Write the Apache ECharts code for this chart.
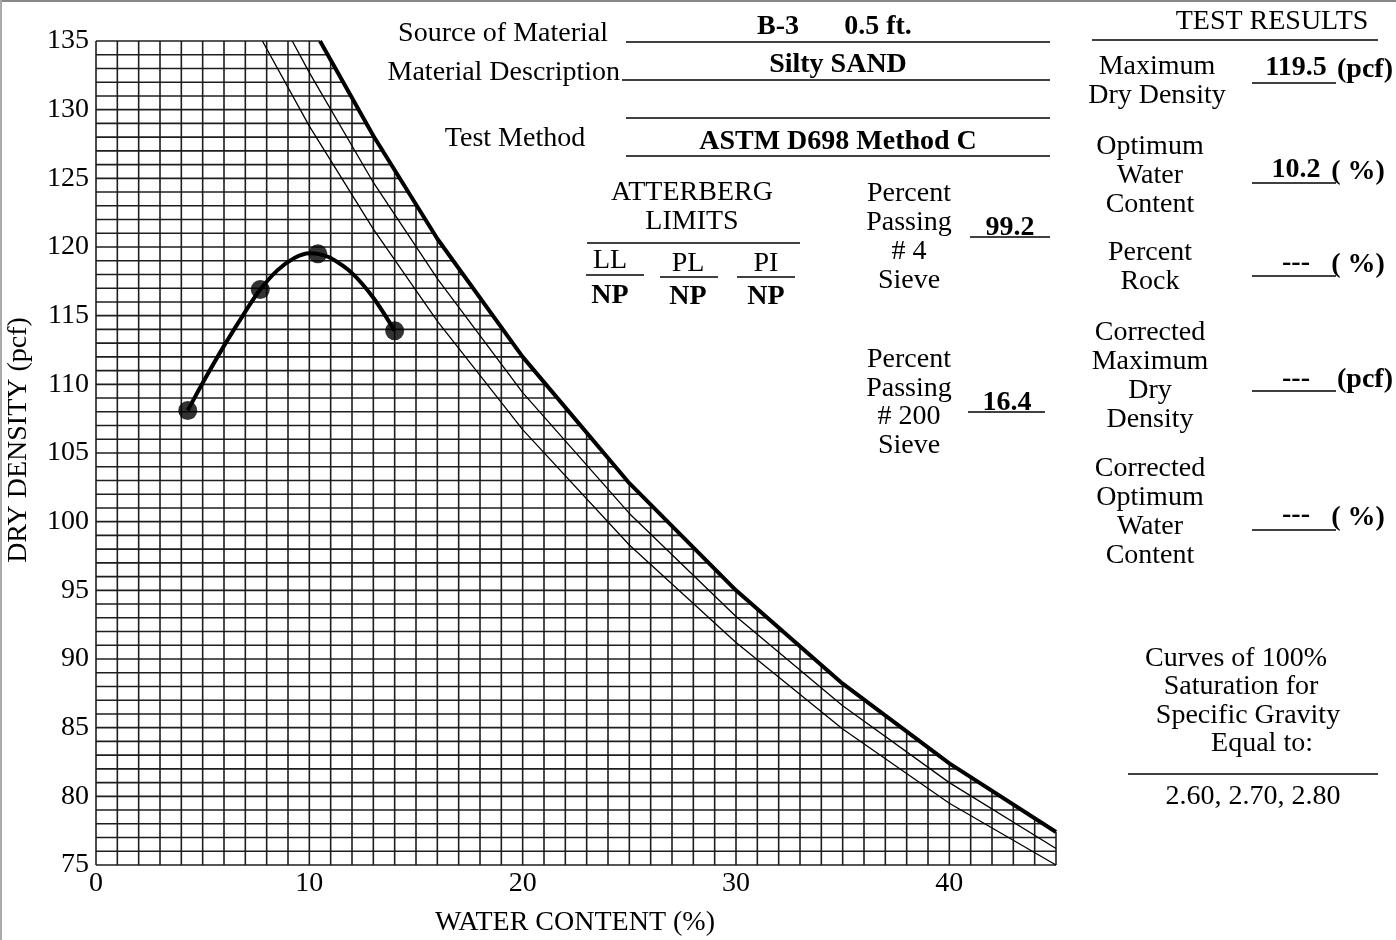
<!DOCTYPE html>
<html><head><meta charset="utf-8">
<script src="https://cdn.jsdelivr.net/npm/echarts@6/dist/echarts.min.js"></script>
<style>html,body{margin:0;padding:0;background:#fff}#c{width:1396px;height:940px}</style>
</head><body><div id="c"></div>
<script>
// ---- axis ticks ----
const xTickLabels = ['0', '10', '20', '30', '40'];
const yTickLabels = ['75', '80', '85', '90', '95', '100', '105', '110', '115', '120', '125', '130', '135'];

// ---- compaction test points (water content %, dry density pcf) ----
const testW = [4.3, 7.7, 10.4, 14.0];
const testD = [108.1, 116.9, 119.5, 113.9];

// ---- fitted compaction curve ----
const curveW = [4.3, 5, 6, 7, 7.7, 8.5, 9.3, 10.0, 10.4, 11, 12, 13, 14.0];
const curveD = [108.1, 110.1, 112.8, 115.3, 116.9, 118.3, 119.2, 119.55, 119.5, 119.2, 118.1, 116.3, 113.9];

// ---- 100% saturation curves ----
const zavW280 = [10.5, 13, 16, 20, 25, 30, 35, 40, 45];
const zavD280 = [135.0, 128.1, 120.6, 112.0, 102.8, 95.0, 88.2, 82.4, 77.4];
const zavW270 = [9.2, 10, 13, 16, 20, 25, 30, 35, 40, 45];
const zavD270 = [135.0, 132.7, 124.7, 117.7, 109.4, 100.6, 93.1, 86.6, 81.0, 76.2];
const zavW260 = [7.8, 10, 13, 16, 20, 25, 30, 35, 40, 45];
const zavD260 = [135.0, 128.8, 121.3, 114.6, 106.7, 98.3, 91.2, 84.9, 79.5, 75.0];

const X_MIN = 0, X_MAX = 45, Y_MIN = 75, Y_MAX = 135;

// grid line positions (every 1 unit)
const gridXs = [];
for (let v = X_MIN; v <= X_MAX; v++) gridXs.push([v]);
const gridYs = [];
for (let v = Y_MIN; v <= Y_MAX; v++) gridYs.push([v]);

const pairs = (a, b) => a.map((v, i) => [v, b[i]]);

// boundary of grid = thick (Gs 2.80) curve
function topAt(x) {
  if (x <= zavW280[0]) return Y_MAX;
  for (let i = 1; i < zavW280.length; i++) {
    if (x <= zavW280[i] + 1e-9) {
      const t = (x - zavW280[i - 1]) / (zavW280[i] - zavW280[i - 1]);
      return Math.min(Y_MAX, zavD280[i - 1] + t * (zavD280[i] - zavD280[i - 1]));
    }
  }
  return zavD280[zavD280.length - 1];
}
function rightAt(y) {
  if (y >= zavD280[0]) return zavW280[0];
  for (let i = 1; i < zavD280.length; i++) {
    if (y >= zavD280[i] - 1e-9) {
      const t = (y - zavD280[i - 1]) / (zavD280[i] - zavD280[i - 1]);
      return zavW280[i - 1] + t * (zavW280[i] - zavW280[i - 1]);
    }
  }
  return X_MAX;
}

const GRID_STYLE = { stroke: '#1e1e1e', lineWidth: 1.6 };
const FONT = '"Liberation Serif", "Times New Roman", serif';

function txt(text, x, y, align, bold, size) {
  return {
    type: 'text', x: x, y: y, z: 100,
    style: {
      text: text, fill: '#000',
      font: (bold ? 'bold ' : '') + (size || 28) + 'px ' + FONT,
      textAlign: align || 'center', textVerticalAlign: 'middle', verticalAlign: 'middle'
    }
  };
}
function ln(x1, y1, x2, y2, w, c) {
  return { type: 'line', z: 100, shape: { x1: x1, y1: y1, x2: x2, y2: y2 }, style: { stroke: c || '#000', lineWidth: w || 1.5 } };
}

const graphics = [
  ln(0, 1, 1396, 1, 2, '#888'),
  ln(1, 0, 1, 940, 2, '#aaa'),
  // header block
  txt('Source of Material', 608, 34, 'right'),
  ln(626, 42, 1050, 42),
  txt('B-3', 778, 27, 'center', true),
  txt('0.5 ft.', 878, 27, 'center', true),
  txt('Material Description', 620, 73, 'right'),
  ln(622, 80, 1050, 80),
  txt('Silty SAND', 838, 65, 'center', true),
  ln(626, 118, 1050, 118),
  txt('Test Method', 515, 139),
  ln(626, 156, 1050, 156),
  txt('ASTM D698 Method C', 838, 142, 'center', true),
  // Atterberg
  txt('ATTERBERG', 692, 193),
  txt('LIMITS', 692, 222),
  ln(587, 243, 800, 243),
  txt('LL', 610, 261), ln(586, 275, 644, 275),
  txt('PL', 688, 264), ln(660, 277, 718, 277),
  txt('PI', 766, 264), ln(737, 277, 795, 277),
  txt('NP', 610, 296, 'center', true),
  txt('NP', 688, 297, 'center', true),
  txt('NP', 766, 297, 'center', true),
  // sieves
  txt('Percent', 909, 194), txt('Passing', 909, 223), txt('# 4', 909, 252), txt('Sieve', 909, 281),
  txt('99.2', 1010, 228, 'center', true), ln(970, 237, 1050, 237),
  txt('Percent', 909, 360), txt('Passing', 909, 389), txt('# 200', 909, 417), txt('Sieve', 909, 446),
  txt('16.4', 1007, 403, 'center', true), ln(968, 412, 1045, 412),
  // test results
  txt('TEST RESULTS', 1272, 22), ln(1092, 40, 1378, 40),
  txt('Maximum', 1157, 67), txt('Dry Density', 1157, 96),
  txt('119.5', 1296, 68, 'center', true), ln(1252, 83, 1336, 83), txt('(pcf)', 1365, 70, 'center', true),
  txt('Optimum', 1150, 147), txt('Water', 1150, 176), txt('Content', 1150, 205),
  txt('10.2', 1296, 170, 'center', true), ln(1252, 183, 1336, 183), txt('( %)', 1358, 172, 'center', true),
  txt('Percent', 1150, 253), txt('Rock', 1150, 282),
  txt('---', 1296, 263, 'center', true), ln(1252, 276, 1336, 276), txt('( %)', 1358, 265, 'center', true),
  txt('Corrected', 1150, 333), txt('Maximum', 1150, 362), txt('Dry', 1150, 391), txt('Density', 1150, 420),
  txt('---', 1296, 379, 'center', true), ln(1252, 391, 1336, 391), txt('(pcf)', 1365, 380, 'center', true),
  txt('Corrected', 1150, 469), txt('Optimum', 1150, 498), txt('Water', 1150, 527), txt('Content', 1150, 556),
  txt('---', 1296, 515, 'center', true), ln(1252, 530, 1336, 530), txt('( %)', 1358, 518, 'center', true),
  // saturation note
  txt('Curves of 100%', 1236, 659), txt('Saturation for', 1241, 687),
  txt('Specific Gravity', 1248, 716), txt('Equal to:', 1262, 744),
  ln(1128, 774, 1378, 774),
  txt('2.60, 2.70, 2.80', 1253, 797),
  // axis titles
  txt('WATER CONTENT (%)', 575, 923),
  Object.assign(txt('DRY DENSITY (pcf)', 19, 440), { rotation: Math.PI / 2 })
];

const chart = echarts.init(document.getElementById('c'), null, { renderer: 'canvas' });
chart.setOption({
  animation: false,
  backgroundColor: '#fff',
  grid: { left: 96, right: 340, top: 41, bottom: 75, containLabel: false },
  xAxis: {
    type: 'value', min: X_MIN, max: X_MAX, interval: 10,
    axisLine: { show: false }, axisTick: { show: false }, splitLine: { show: false },
    axisLabel: {
      margin: 5, color: '#000', fontSize: 28, fontFamily: FONT,
      formatter: v => xTickLabels.indexOf(String(v)) >= 0 ? String(v) : ''
    }
  },
  yAxis: {
    type: 'value', min: Y_MIN, max: Y_MAX, interval: 5,
    axisLine: { show: false }, axisTick: { show: false }, splitLine: { show: false },
    axisLabel: {
      margin: 7, color: '#000', fontSize: 28, fontFamily: FONT,
      formatter: v => yTickLabels.indexOf(String(v)) >= 0 ? String(v) : ''
    }
  },
  graphic: graphics,
  series: [
    {
      type: 'custom', z: 1, silent: true, data: gridXs,
      renderItem: function (params, api) {
        const x = api.value(0);
        const p1 = api.coord([x, Y_MIN]);
        const p2 = api.coord([x, topAt(x)]);
        return { type: 'line', shape: { x1: p1[0], y1: p1[1], x2: p2[0], y2: p2[1] }, style: GRID_STYLE };
      }
    },
    {
      type: 'custom', z: 1, silent: true, data: gridYs,
      renderItem: function (params, api) {
        const y = api.value(0);
        const p1 = api.coord([X_MIN, y]);
        const p2 = api.coord([Math.min(X_MAX, rightAt(y)), y]);
        return { type: 'line', shape: { x1: p1[0], y1: p1[1], x2: p2[0], y2: p2[1] }, style: GRID_STYLE };
      }
    },
    { type: 'line', z: 3, data: pairs(zavW260, zavD260), symbol: 'none', lineStyle: { color: '#000', width: 1.3 }, clip: true, silent: true },
    { type: 'line', z: 3, data: pairs(zavW270, zavD270), symbol: 'none', lineStyle: { color: '#000', width: 1.3 }, clip: true, silent: true },
    { type: 'line', z: 4, data: pairs(zavW280, zavD280), symbol: 'none', lineStyle: { color: '#000', width: 4 }, clip: true, silent: true },
    { type: 'line', z: 5, data: pairs(curveW, curveD), symbol: 'none', smooth: 0.3, lineStyle: { color: '#000', width: 4 }, silent: true },
    { type: 'scatter', z: 6, data: pairs(testW, testD), symbol: 'circle', symbolSize: 19, itemStyle: { color: '#000' }, silent: true }
  ]
});
</script>
</body></html>
